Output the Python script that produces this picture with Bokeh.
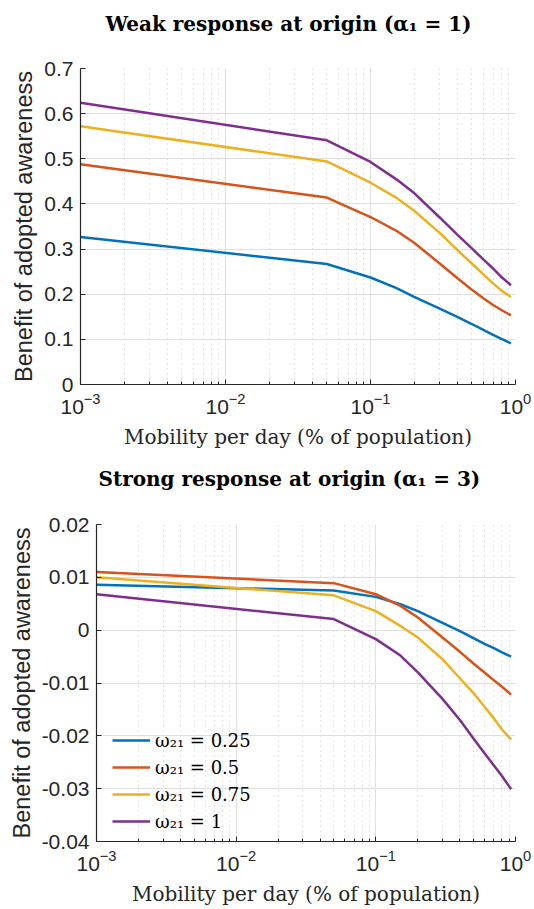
from bokeh.plotting import figure
from bokeh.models import FixedTicker, Legend, LegendItem, Title
from bokeh.embed import file_html
from bokeh.resources import INLINE

# ---------------- data ----------------
mobility = [0.001, 0.05, 0.1, 0.15, 0.2, 0.3, 0.4, 0.5, 0.6, 0.7, 0.8, 0.93]

series_labels = ["ω₂₁ = 0.25", "ω₂₁ = 0.5", "ω₂₁ = 0.75", "ω₂₁ = 1"]
series_colors = ["#0072BD", "#D95319", "#EDB120", "#7E2F8E"]

weak_w025 = [0.327, 0.267, 0.237, 0.214, 0.194, 0.168, 0.149, 0.134, 0.121, 0.110, 0.101, 0.091]
weak_w050 = [0.488, 0.414, 0.371, 0.341, 0.314, 0.268, 0.235, 0.210, 0.191, 0.176, 0.165, 0.153]
weak_w075 = [0.572, 0.494, 0.447, 0.414, 0.385, 0.336, 0.297, 0.268, 0.244, 0.224, 0.208, 0.194]
weak_w100 = [0.624, 0.541, 0.493, 0.455, 0.424, 0.370, 0.331, 0.3015, 0.277, 0.257, 0.238, 0.220]

strong_w025 = [0.0086, 0.0075, 0.0063, 0.0049, 0.0036, 0.0014, -0.0002, -0.0015, -0.0026, -0.0034, -0.0042, -0.0050]
strong_w050 = [0.0110, 0.0089, 0.0068, 0.0046, 0.0024, -0.0014, -0.0041, -0.0063, -0.0080, -0.0095, -0.0107, -0.0122]
strong_w075 = [0.0100, 0.0066, 0.0036, 0.0008, -0.0014, -0.0055, -0.0091, -0.0119, -0.0145, -0.0167, -0.0188, -0.0207]
strong_w100 = [0.0068, 0.0021, -0.0017, -0.0048, -0.0080, -0.0130, -0.0170, -0.0205, -0.0233, -0.0256, -0.0276, -0.0301]

weak_title = "Weak response at origin (α₁ = 1)\n"
strong_title = "Strong response at origin (α₁ = 3)\n"
x_label = "Mobility per day (% of population)"
y_label = "Benefit of adopted awareness"

x_major_ticks = [0.001, 0.01, 0.1, 1.0]
x_minor_ticks = [m * d for d in (0.001, 0.01, 0.1) for m in range(2, 10)]

weak_yticks = [0.0, 0.1, 0.2, 0.3, 0.4, 0.5, 0.6, 0.7]
weak_ytick_labels = ["0", "0.1", "0.2", "0.3", "0.4", "0.5", "0.6", "0.7"]
strong_yticks = [-0.04, -0.03, -0.02, -0.01, 0.0, 0.01, 0.02]
strong_ytick_labels = ["-0.04", "-0.03", "-0.02", "-0.01", "0", "0.01", "0.02"]

AX = "#262626"
SANS = "Liberation Sans"
SERIF = "DejaVu Serif"


def make_fig(series, yr, yticks, ylabels, title, title_offset, title_standoff,
             w, h, b_left, b_right, b_top, b_bottom):
    p = figure(x_axis_type="log", x_range=(1e-3, 1.0), y_range=yr,
               width=w, height=h,
               min_border_left=b_left, min_border_right=b_right,
               min_border_top=b_top, min_border_bottom=b_bottom,
               output_backend="svg", toolbar_location=None,
               background_fill_color="white", border_fill_color="white")
    p.outline_line_color = None

    renderers = []
    for ys, c in zip(series, series_colors):
        r = p.line(mobility, ys, line_color=c, line_width=2.5)
        renderers.append(r)

    p.xaxis.ticker = FixedTicker(ticks=x_major_ticks, minor_ticks=x_minor_ticks)
    p.yaxis.ticker = FixedTicker(ticks=yticks)
    p.yaxis.major_label_overrides = {t: l for t, l in zip(yticks, ylabels)}

    for ax in (p.xaxis[0], p.yaxis[0]):
        ax.axis_line_color = AX
        ax.axis_line_width = 1.2
        ax.major_tick_line_color = AX
        ax.major_tick_in = 5
        ax.major_tick_out = 0
        ax.minor_tick_line_color = AX
        ax.minor_tick_in = 3
        ax.minor_tick_out = 0
        ax.major_label_text_font = SANS
        ax.major_label_text_font_size = "21px"
        ax.major_label_text_color = AX
        ax.axis_label_text_color = AX
        ax.axis_label_text_font_style = "normal"
    p.yaxis.minor_tick_line_color = None
    p.xaxis.major_label_standoff = 8
    p.yaxis.major_label_standoff = 7

    p.xaxis.axis_label = x_label
    p.xaxis.axis_label_text_font = SERIF
    p.xaxis.axis_label_text_font_size = "20px"
    p.xaxis.axis_label_standoff = 8
    p.yaxis.axis_label = y_label
    p.yaxis.axis_label_text_font = SANS
    p.yaxis.axis_label_text_font_size = "23.5px"
    p.yaxis.axis_label_standoff = 4

    p.xgrid.grid_line_color = "#dfdfdf"
    p.xgrid.minor_grid_line_color = "#c4c4c4"
    p.xgrid.minor_grid_line_dash = "1 4"
    p.ygrid.grid_line_color = "#dfdfdf"

    p.add_layout(Title(text=title, align="left", offset=title_offset, standoff=title_standoff,
                       text_font=SERIF, text_font_style="bold",
                       text_font_size="20px", text_color="black"), "above")
    return p, renderers


p1, _ = make_fig([weak_w025, weak_w050, weak_w075, weak_w100], (0, 0.7),
                 weak_yticks, weak_ytick_labels, weak_title, 25, 18,
                 534, 454, 80, 19, 66, 70)

p2, rs = make_fig([strong_w025, strong_w050, strong_w075, strong_w100], (-0.04, 0.02),
                  strong_yticks, strong_ytick_labels, strong_title, 2, 20,
                  534, 456, 96, 19, 68, 69)

legend = Legend(items=[LegendItem(label=l, renderers=[r]) for l, r in zip(series_labels, rs)],
                location=(16, 7), padding=0, spacing=1,
                glyph_width=38, glyph_height=20, label_height=26, label_standoff=5,
                label_text_font=SERIF, label_text_font_size="18px", label_text_color="black",
                background_fill_alpha=0, border_line_color=None)
p2.add_layout(legend)

open("out.html", "w").write(file_html([p1, p2], INLINE))
